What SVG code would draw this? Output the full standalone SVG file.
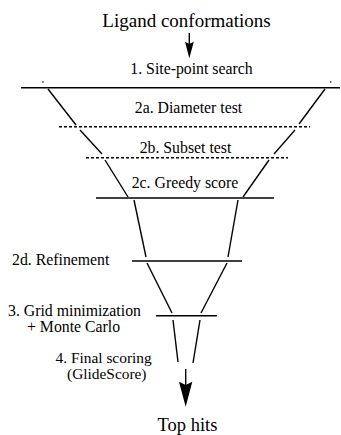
<svg xmlns="http://www.w3.org/2000/svg" width="341" height="435" viewBox="0 0 341 435">
<style>
text{font-family:"Liberation Serif","Times New Roman",serif;fill:#000}
.t{font-size:19px;text-anchor:middle}
.l{font-size:15.8px}
.f{font-size:15.4px}
.c{text-anchor:middle}
.s{stroke:#000;stroke-width:1.4;fill:none}
.d{stroke:#000;stroke-width:1.4;stroke-dasharray:3 2;fill:none}
</style>
<rect width="341" height="435" fill="#fff"/>
<g id="input"><text class="t" x="186.5" y="27">Ligand conformations</text></g>
<g id="site-point"><text class="l c" x="191.5" y="74">1. Site-point search</text>
<line class="s" x1="21" y1="87.7" x2="340" y2="87.7"/>
<circle cx="43" cy="82" r="0.8"/><circle cx="330.7" cy="82" r="0.8"/></g>
<g id="diameter"><text class="l c" x="188.5" y="113">2a. Diameter test</text>
<line class="d" x1="59" y1="126.7" x2="310" y2="126.7"/></g>
<g id="subset"><text class="l c" x="185.5" y="153">2b. Subset test</text>
<line class="d" x1="86" y1="157.7" x2="288" y2="157.7"/></g>
<g id="greedy"><text class="l c" x="185" y="188">2c. Greedy score</text>
<line class="s" x1="96" y1="198" x2="274" y2="198"/></g>
<g id="refinement"><text class="l" x="12" y="265">2d. Refinement</text>
<line class="s" x1="132" y1="261" x2="242" y2="261"/></g>
<g id="grid"><text class="l" x="8" y="315.5">3. Grid minimization</text>
<text class="l" x="27" y="332">+ Monte Carlo</text>
<line class="s" x1="156" y1="315.7" x2="217" y2="315.7"/></g>
<g id="final"><text class="f" x="55.5" y="362.5">4. Final scoring</text>
<text class="f" x="67" y="379">(GlideScore)</text></g>
<g id="output"><text class="t" x="187.5" y="430.7" style="font-size:18.5px">Top hits</text></g>
<g id="connectors">
<line class="s" x1="189.3" y1="33" x2="189.3" y2="45"/>
<polygon points="185,41.7 189.3,44 193.8,41.7 189.3,58.3"/>
<line class="s" x1="48" y1="89" x2="76" y2="125"/>
<line class="s" x1="325" y1="89" x2="299" y2="124"/>
<line class="s" x1="80" y1="130" x2="102" y2="154"/>
<line class="s" x1="295" y1="130" x2="274" y2="154"/>
<line class="s" x1="105" y1="160" x2="128" y2="197"/>
<line class="s" x1="269" y1="160" x2="243" y2="197"/>
<line class="s" x1="134" y1="200" x2="146" y2="257"/>
<line class="s" x1="238" y1="200" x2="228" y2="257"/>
<line class="s" x1="147" y1="263" x2="172" y2="313"/>
<line class="s" x1="227" y1="263" x2="201" y2="313"/>
<line class="s" x1="173" y1="320" x2="178" y2="362"/>
<line class="s" x1="200" y1="320" x2="193" y2="363"/>
<line class="s" x1="185.7" y1="369" x2="185.7" y2="386"/>
<polygon points="179,381.7 185.7,385 192.3,381.7 185.7,406.7"/>
</g>
</svg>
